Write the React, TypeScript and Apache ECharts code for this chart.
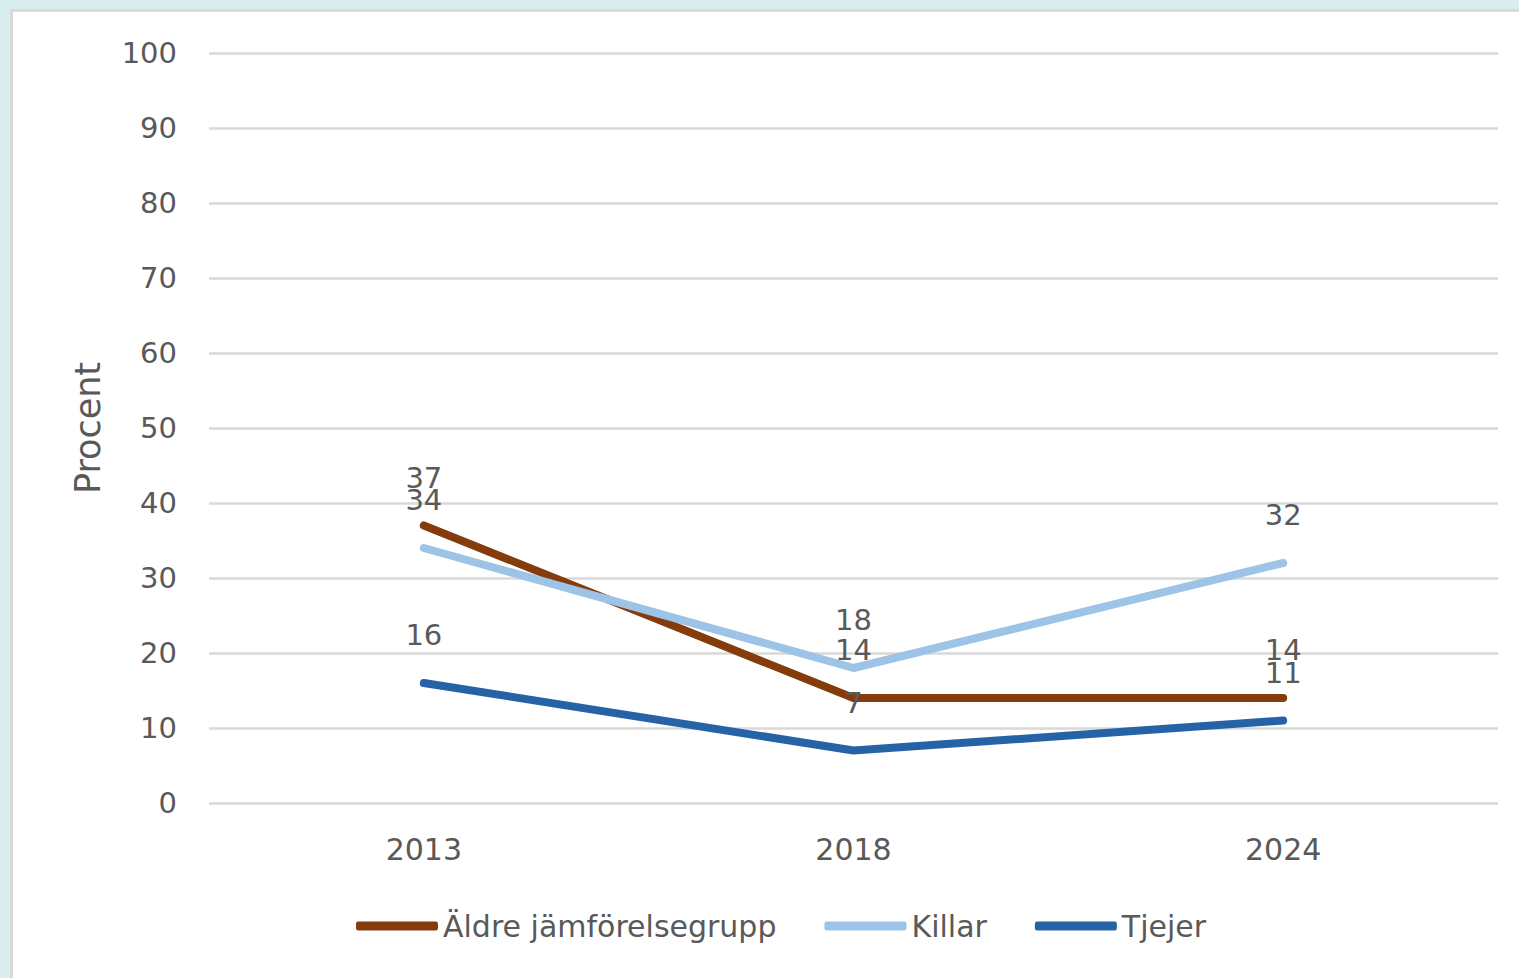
import React, { useEffect, useRef } from "react";
import * as echarts from "echarts";

const years = ["2013", "2018", "2024"];
const aldre = [37, 14, 14];
const killar = [34, 18, 32];
const tjejer = [16, 7, 11];
const seriesNames = ["Äldre jämförelsegrupp", "Killar", "Tjejer"];
const seriesColors = ["#843C0C", "#9DC3E6", "#2563A6"];

const FONT = "'DejaVu Sans', Inter, sans-serif";
const TXT = "#595959";
const FS = 29;

export default function App() {
  const ref = useRef<HTMLDivElement>(null);
  useEffect(() => {
    if (!ref.current) return;
    const chart = echarts.init(ref.current, undefined, { renderer: "svg" });
    const data = [aldre, killar, tjejer];
    chart.setOption({
      animation: false,
      backgroundColor: "#ffffff",
      textStyle: { fontFamily: FONT },
      grid: { left: 196, right: 21, top: 41, bottom: 175, containLabel: false },
      legend: {
        bottom: 32,
        left: 338,
        itemWidth: 82,
        itemHeight: 9,
        itemGap: 48,
        icon: "roundRect",
        textStyle: { fontFamily: FONT, fontSize: 30, color: TXT },
        data: seriesNames,
      },
      xAxis: {
        type: "category",
        data: years,
        boundaryGap: true,
        axisLine: { show: false },
        axisTick: { show: false },
        axisLabel: { fontFamily: FONT, fontSize: 30, color: TXT, margin: 31 },
      },
      yAxis: {
        type: "value",
        min: 0,
        max: 100,
        interval: 10,
        name: "Procent",
        nameLocation: "middle",
        nameRotate: 90,
        nameGap: 104,
        nameTextStyle: { fontFamily: FONT, fontSize: 35, color: TXT },
        axisLine: { show: false },
        axisTick: { show: false },
        axisLabel: { fontFamily: FONT, fontSize: FS, color: TXT, margin: 32 },
        splitLine: { lineStyle: { color: "#D9D9D9", width: 2.5 } },
      },
      series: data.map((d, i) => ({
        name: seriesNames[i],
        type: "line",
        data: d,
        symbol: "circle",
        symbolSize: 1,
        showSymbol: true,
        color: seriesColors[i],
        lineStyle: { width: 8, color: seriesColors[i], cap: "round", join: "round" },
        itemStyle: { color: seriesColors[i] },
        label: {
          show: true,
          position: "top",
          distance: 33,
          fontFamily: FONT,
          fontSize: FS,
          color: TXT,
        },
        z: 2 + i,
      })),
    });
    return () => chart.dispose();
  }, []);

  return (
    <div style={{ position: "fixed", left: 0, top: 0, width: 1519, height: 978, background: "#D8EDEE", overflow: "hidden" }}>
      <div
        style={{
          position: "absolute",
          left: 10,
          top: 9,
          width: 1509,
          height: 969,
          borderLeft: "3px solid #D9D9D9",
          borderTop: "3px solid #D9D9D9",
          boxSizing: "border-box",
          background: "#ffffff",
        }}
      >
        <div ref={ref} style={{ position: "absolute", left: 0, top: 0, width: 1506, height: 966 }} />
      </div>
    </div>
  );
}
